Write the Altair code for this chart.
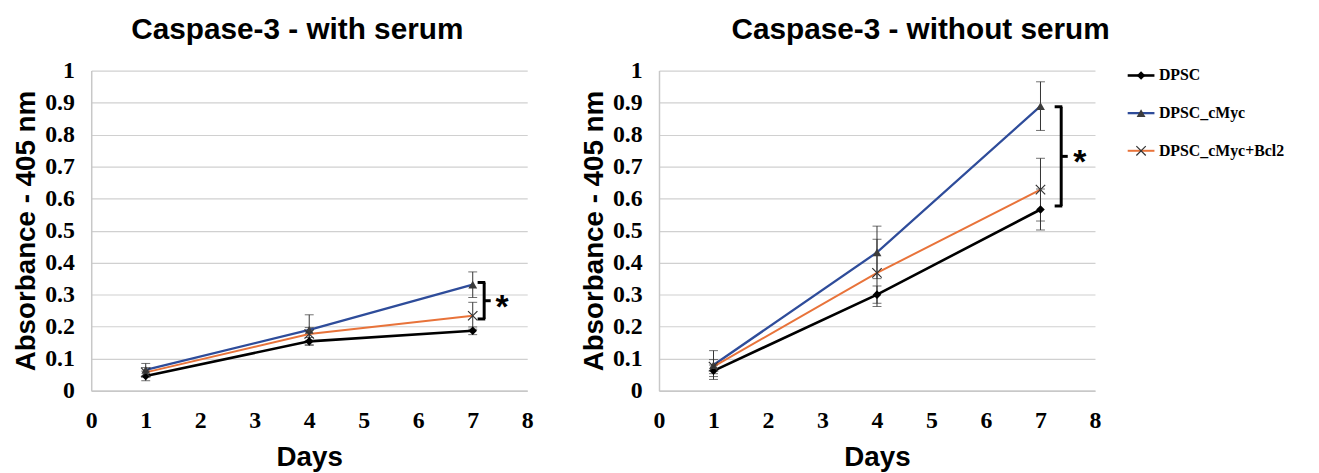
import altair as alt
import pandas as pd

# ---------------- data ----------------
DAYS = [1, 4, 7]
SERIES = ["DPSC", "DPSC_cMyc", "DPSC_cMyc+Bcl2"]

# with serum
WITH_DPSC = [0.046, 0.154, 0.187]
WITH_DPSC_ERR = [0.015, 0.012, 0.012]
WITH_CMYC = [0.065, 0.190, 0.331]
WITH_CMYC_ERR = [0.020, 0.047, 0.040]
WITH_BCL2 = [0.057, 0.177, 0.234]
WITH_BCL2_ERR = [0.015, 0.020, 0.042]

# without serum
WO_DPSC = [0.062, 0.300, 0.566]
WO_DPSC_ERR = [0.018, 0.027, 0.064]
WO_CMYC = [0.080, 0.432, 0.889]
WO_CMYC_ERR = [0.045, 0.082, 0.076]
WO_BCL2 = [0.075, 0.368, 0.628]
WO_BCL2_ERR = [0.022, 0.105, 0.098]

Y_TICKS = [0, 0.1, 0.2, 0.3, 0.4, 0.5, 0.6, 0.7, 0.8, 0.9, 1]
X_TICKS = [0, 1, 2, 3, 4, 5, 6, 7, 8]

LINE_COLORS = ["#000000", "#2E4C9A", "#E8733A"]
LINE_WIDTHS = [2.6, 2.0, 2.0]

SANS = "Liberation Sans"
SERIF = "Liberation Serif"


def long_df(means, errs):
    rows = []
    for s, m, e in zip(SERIES, means, errs):
        for d, v, er in zip(DAYS, m, e):
            rows.append({"series": s, "day": d, "value": v, "lo": v - er, "hi": v + er})
    return pd.DataFrame(rows)


df_with = long_df([WITH_DPSC, WITH_CMYC, WITH_BCL2], [WITH_DPSC_ERR, WITH_CMYC_ERR, WITH_BCL2_ERR])
df_wo = long_df([WO_DPSC, WO_CMYC, WO_BCL2], [WO_DPSC_ERR, WO_CMYC_ERR, WO_BCL2_ERR])

# significance brackets (data units): x of vertical bar, top, bottom
BRACKET_WITH = {"x": 7.21, "top": 0.338, "bottom": 0.224, "star_x": 7.54}
BRACKET_WO = {"x": 7.38, "top": 0.887, "bottom": 0.577, "star_x": 7.72}

X_AXIS = alt.Axis(values=X_TICKS, format="d", title="Days", grid=False, ticks=False,
                  domain=True, domainColor="#c8c8c8", domainWidth=1.5, labelFlush=False,
                  labelFont=SERIF, labelFontWeight="bold", labelFontSize=24, labelColor="black",
                  labelPadding=18, titleFont=SANS, titleFontWeight="bold", titleFontSize=28,
                  titleColor="black", titlePadding=12)
Y_AXIS = alt.Axis(values=Y_TICKS, format="~g", title="Absorbance - 405 nm", grid=True,
                  gridColor="#d0d0d0", gridWidth=1.2, ticks=False,
                  domain=True, domainColor="#c8c8c8", domainWidth=1.5,
                  labelFont=SERIF, labelFontWeight="bold", labelFontSize=24, labelColor="black",
                  labelPadding=17, titleFont=SANS, titleFontWeight="bold", titleFontSize=28,
                  titleColor="black", titlePadding=4)

X_SCALE = alt.Scale(domain=[0, 8], nice=False)
Y_SCALE = alt.Scale(domain=[0, 1], nice=False)


def point_layers(base, x, y):
    dia = base.transform_filter(alt.datum.series == SERIES[0]).mark_point(
        shape="diamond", filled=True, color="#000000", size=75, opacity=1).encode(x=x, y=y)
    tri = base.transform_filter(alt.datum.series == SERIES[1]).mark_point(
        shape="triangle-up", filled=True, color="#3C3C3C", size=80, opacity=1).encode(x=x, y=y)
    crs = base.transform_filter(alt.datum.series == SERIES[2]).mark_point(
        shape="M-1,-1L1,1M-1,1L1,-1", filled=False, color="#333333", strokeWidth=1.2,
        size=90, opacity=1).encode(x=x, y=y)
    return [dia, tri, crs]


def panel(df, title, br, title_dx):
    base = alt.Chart(df)
    x = alt.X("day:Q", scale=X_SCALE, axis=X_AXIS)
    y = alt.Y("value:Q", scale=Y_SCALE, axis=Y_AXIS)
    lines = base.mark_line().encode(
        x=x, y=y,
        color=alt.Color("series:N", scale=alt.Scale(domain=SERIES, range=LINE_COLORS), legend=None),
        strokeWidth=alt.StrokeWidth("series:N", scale=alt.Scale(domain=SERIES, range=LINE_WIDTHS), legend=None),
    )
    err = base.mark_rule(color="#333333", strokeWidth=1).encode(
        x=x, y=alt.Y("lo:Q", scale=Y_SCALE, axis=Y_AXIS), y2="hi:Q")
    cap_hi = base.mark_tick(orient="horizontal", size=9, thickness=1, color="#333333").encode(
        x=x, y=alt.Y("hi:Q", scale=Y_SCALE, axis=Y_AXIS))
    cap_lo = base.mark_tick(orient="horizontal", size=9, thickness=1, color="#333333").encode(
        x=x, y=alt.Y("lo:Q", scale=Y_SCALE, axis=Y_AXIS))

    # significance bracket
    bx = br["x"]
    mid = (br["top"] + br["bottom"]) / 2
    one = alt.Chart(pd.DataFrame({"k": [0]}))
    bar = one.mark_rule(color="black", strokeWidth=3).encode(
        x=alt.X(datum=bx, scale=X_SCALE, axis=X_AXIS),
        y=alt.Y(datum=br["top"], scale=Y_SCALE, axis=Y_AXIS), y2=alt.Y2(datum=br["bottom"]))
    tick_top = one.mark_rule(color="black", strokeWidth=3).encode(
        x=alt.X(datum=bx - 0.12, scale=X_SCALE, axis=X_AXIS), x2=alt.X2(datum=bx + 0.02),
        y=alt.Y(datum=br["top"], scale=Y_SCALE, axis=Y_AXIS))
    tick_bot = one.mark_rule(color="black", strokeWidth=3).encode(
        x=alt.X(datum=bx - 0.12, scale=X_SCALE, axis=X_AXIS), x2=alt.X2(datum=bx + 0.02),
        y=alt.Y(datum=br["bottom"], scale=Y_SCALE, axis=Y_AXIS))
    tick_mid = one.mark_rule(color="black", strokeWidth=3).encode(
        x=alt.X(datum=bx, scale=X_SCALE, axis=X_AXIS), x2=alt.X2(datum=bx + 0.12),
        y=alt.Y(datum=mid, scale=Y_SCALE, axis=Y_AXIS))
    star = one.mark_text(text="*", font=SANS, fontWeight="bold", fontSize=34,
                         baseline="middle", align="center", dy=7).encode(
        x=alt.X(datum=br["star_x"], scale=X_SCALE, axis=X_AXIS),
        y=alt.Y(datum=mid, scale=Y_SCALE, axis=Y_AXIS))

    layers = [lines, err, cap_hi, cap_lo] + point_layers(base, x, y) + [bar, tick_top, tick_bot, tick_mid, star]
    return alt.layer(*layers).properties(
        width=440, height=323,
        title=alt.Title(title, font=SANS, fontWeight="bold", fontSize=30, color="black",
                        anchor="middle", offset=14, dx=title_dx),
    )


left = panel(df_with, "Caspase-3 - with serum", BRACKET_WITH, -12)
right = panel(df_wo, "Caspase-3 - without serum", BRACKET_WO, 44)

# legend drawn as a small chart
leg_df = pd.DataFrame({"series": SERIES, "idx": [0, 1, 2]})
LX = alt.Scale(domain=[0, 20], nice=False)
LY = alt.Scale(domain=[-0.13, 4.87], nice=False, reverse=True)
lbase = alt.Chart(leg_df)
ly = alt.Y("idx:Q", scale=LY, axis=None)
leg_lines = lbase.mark_rule().encode(
    x=alt.X(datum=0, scale=LX, axis=None), x2=alt.X2(datum=3), y=ly,
    color=alt.Color("series:N", scale=alt.Scale(domain=SERIES, range=LINE_COLORS), legend=None),
    strokeWidth=alt.StrokeWidth("series:N", scale=alt.Scale(domain=SERIES, range=LINE_WIDTHS), legend=None),
)
leg_pts = point_layers(lbase, alt.X(datum=1.5, scale=LX, axis=None), ly)
leg_text = lbase.mark_text(align="left", baseline="middle", font=SERIF, fontWeight="bold",
                           fontSize=16, color="black").encode(
    x=alt.X(datum=3.5, scale=LX, axis=None), y=ly, text="series:N")
legend = alt.layer(leg_lines, *leg_pts, leg_text).properties(width=180, height=190)

right_group = alt.hconcat(right, legend, spacing=16)
chart = alt.hconcat(left, right_group, spacing=48).configure_view(stroke=None).resolve_scale(
    color="independent", strokeWidth="independent")

chart.save("out.html", embed_options={"renderer": "svg", "actions": False})
